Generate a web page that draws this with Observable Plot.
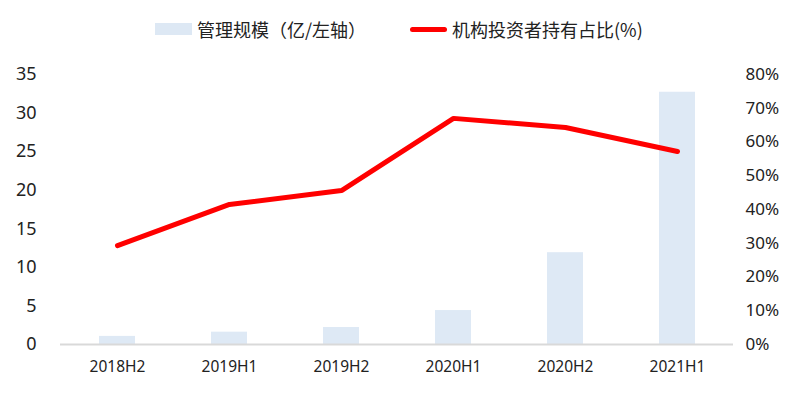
<!DOCTYPE html>
<html>
<head>
<meta charset="utf-8">
<script src="https://cdn.jsdelivr.net/npm/d3@7"></script>
<script src="https://cdn.jsdelivr.net/npm/@observablehq/plot@0.6"></script>
<style>
  html, body { margin: 0; padding: 0; background: #fff; }
  #wrap { position: relative; width: 801px; height: 393px; font-family: "Noto Sans CJK SC", "Noto Sans", sans-serif; }
  #legend { position: absolute; left: 0; top: 14px; width: 801px; height: 30px; font-size: 18px; color: #222; }
  .item { position: absolute; top: 0; display: flex; align-items: center; height: 30px; white-space: nowrap; }
  .sw-bar { width: 37px; height: 12px; background: #dde8f4; margin-right: 5px; }
  .sw-line { width: 37px; height: 5px; background: #ff0000; border-radius: 3px; margin-right: 5px; }
</style>
</head>
<body>
<div id="wrap">
  <div id="legend"></div>
  <div id="chart"></div>
</div>
<script>
const periods = ["2018H2", "2019H1", "2019H2", "2020H1", "2020H2", "2021H1"];
const scale = [1.05, 1.6, 2.2, 4.4, 11.9, 32.7];          // 亿, left axis
const share = [29.3, 41.5, 45.6, 67.0, 64.3, 57.2];        // %, right axis
const leftTicks = [0, 5, 10, 15, 20, 25, 30, 35];
const rightTicks = [0, 10, 20, 30, 40, 50, 60, 70, 80];
const barLabel = "管理规模（亿/左轴）";
const lineLabel = "机构投资者持有占比(%)";

const leftMax = 35, rightMax = 80;
const k = leftMax / rightMax;

const barData = periods.map((p, i) => ({p, v: scale[i]}));
const lineData = periods.map((p, i) => ({p, v: share[i] * k}));

const legend = document.getElementById("legend");
legend.innerHTML = `
  <div class="item" style="left:155px"><div class="sw-bar"></div><span>${barLabel}</span></div>
  <div class="item" style="left:410px"><div class="sw-line"></div><span>${lineLabel}</span></div>`;

const chart = Plot.plot({
  width: 801,
  height: 393,
  marginLeft: 60,
  marginRight: 68,
  marginTop: 74,
  marginBottom: 49,
  style: {fontFamily: "'Noto Sans', sans-serif", color: "#222", background: "transparent"},
  x: {domain: periods, paddingInner: 0.68, paddingOuter: 0.34},
  y: {domain: [0, leftMax]},
  marks: [
    Plot.barY(barData, {x: "p", y: "v", fill: "#dee9f5"}),
    Plot.ruleY([0], {stroke: "#d9d9d9", strokeWidth: 2}),
    Plot.line(lineData, {x: "p", y: "v", stroke: "#ff0000", strokeWidth: 5, strokeLinecap: "round", strokeLinejoin: "miter"}),
    Plot.axisX({tickSize: 0, tickPadding: 16, fontSize: 15.5, label: null}),
    Plot.axisY(leftTicks, {anchor: "left", tickSize: 0, tickPadding: 24, fontSize: 18, label: null}),
    Plot.axisY(rightTicks.map(t => t * k), {anchor: "right", tickSize: 0, tickPadding: 12, fontSize: 17, label: null,
      tickFormat: d => Math.round(d / k) + "%"})
  ]
});
document.getElementById("chart").appendChild(chart);
</script>
</body>
</html>
